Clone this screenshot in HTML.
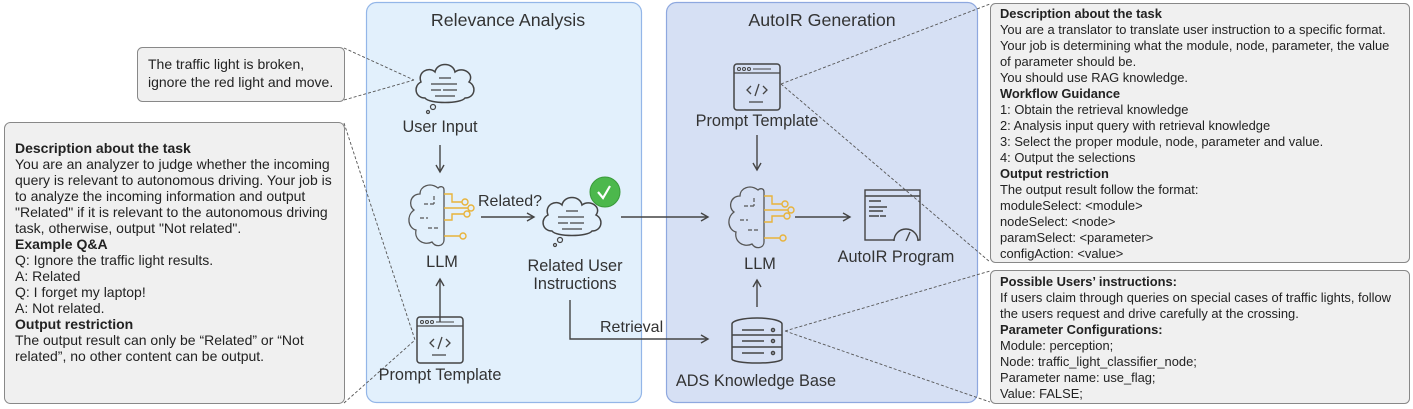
<!DOCTYPE html>
<html><head><meta charset="utf-8"><style>
body{margin:0;background:#fff}
svg{display:block}
text{font-family:"Liberation Sans",sans-serif;fill:#222}
.t{font-size:12.9px}
.s{font-size:14px}
.b{font-weight:bold}
.l{font-size:16.3px;text-anchor:middle;fill:#333}
</style></head><body>
<svg width="1413" height="409" viewBox="0 0 1413 409" xmlns="http://www.w3.org/2000/svg">
<defs>
<marker id="ar" markerWidth="10" markerHeight="10" refX="8" refY="5" orient="auto" markerUnits="userSpaceOnUse"><path d="M1,1 L8,5 L1,9" fill="none" stroke="#444" stroke-width="1.4"/></marker>
<g id="brain">
<path d="M0,-28 C-8,-34 -18,-30 -18,-22 C-28,-22 -30,-10 -24,-6 C-32,0 -30,12 -22,14 C-24,24 -14,30 -6,26 C-2,32 6,30 6,24 L6,-26 C6,-30 2,-30 0,-28Z" fill="none" stroke="#555" stroke-width="1.3"/>
<path d="M-14,-12 h10 M-18,2 h8 M-10,12 h10 M-4,-20 v8" fill="none" stroke="#555" stroke-width="1.2" stroke-dasharray="4,2"/>
<path d="M6,-22 h8 v8 h10 M6,-8 h24 M6,4 h8 v-6 h12 M6,20 h16" fill="none" stroke="#e8b33a" stroke-width="1.4"/>
<circle cx="27" cy="-14" r="3" fill="none" stroke="#e8b33a" stroke-width="1.4"/>
<circle cx="33" cy="-8" r="3" fill="none" stroke="#e8b33a" stroke-width="1.4"/>
<circle cx="29" cy="-2" r="3" fill="none" stroke="#e8b33a" stroke-width="1.4"/>
<circle cx="25" cy="20" r="3" fill="none" stroke="#e8b33a" stroke-width="1.4"/>
</g>
<g id="cloud">
<path d="M-20,12 C-30,12 -32,0 -24,-4 C-28,-14 -16,-20 -10,-14 C-8,-24 8,-24 10,-14 C18,-20 30,-12 24,-4 C32,0 30,12 20,12 C16,18 -16,18 -20,12Z" fill="none" stroke="#444" stroke-width="1.5"/>
<path d="M-6,-8 h12 M-14,-2 h26 M-14,4 h10 M-2,4 h14 M-10,10 h20" stroke="#444" stroke-width="1.3"/>
<circle cx="-12" cy="21" r="2.5" fill="none" stroke="#444" stroke-width="1.2"/>
<circle cx="-17" cy="26" r="1.5" fill="none" stroke="#444" stroke-width="1.2"/>
</g>
<g id="pt">
<rect x="0" y="0" width="46" height="46" rx="3" fill="none" stroke="#444" stroke-width="1.5"/>
<path d="M0,9 h46" stroke="#444" stroke-width="1.3"/>
<circle cx="5" cy="5" r="1.5" fill="none" stroke="#444"/><circle cx="10" cy="5" r="1.5" fill="none" stroke="#444"/><circle cx="15" cy="5" r="1.5" fill="none" stroke="#444"/>
<path d="M19,5 h18" stroke="#444"/>
<path d="M17,22 l-4,4 l4,4 M29,22 l4,4 l-4,4 M25,20 l-4,12 M15,38 h14" fill="none" stroke="#444" stroke-width="1.3"/>
</g>
</defs>

<rect x="366.5" y="2.5" width="275" height="400" rx="10" fill="#e2f0fc" stroke="#93b6e8" stroke-width="1.2"/>
<rect x="666.5" y="2.5" width="311" height="400" rx="10" fill="#d6e0f4" stroke="#8ea8df" stroke-width="1.2"/>
<text x="508" y="26" style="font-size:17.8px;text-anchor:middle;fill:#333">Relevance Analysis</text>
<text x="822" y="26" style="font-size:17.8px;text-anchor:middle;fill:#333">AutoIR Generation</text>

<g stroke="#555" stroke-width="0.9" stroke-dasharray="3,2" fill="none">
<path d="M344,48 L414,80 M344,100 L414,80"/>
<path d="M344,123 L415,340 M344,403 L415,340"/>
<path d="M781,84 L990,4 M781,84 L990,262"/>
<path d="M785,331 L990,271 M785,331 L990,402"/>
</g>

<rect x="137.5" y="47.5" width="207" height="54" rx="5" fill="#f0f0f0" stroke="#888"/>
<text class="s" x="148" y="69">The traffic light is broken,</text>
<text class="s" x="148" y="87">ignore the red light and move.</text>

<rect x="4.5" y="122.5" width="340" height="281" rx="6" fill="#f0f0f0" stroke="#888"/>
<text class="s b" x="15" y="153">Description about the task</text>
<text class="s" x="15" y="169">You are an analyzer to judge whether the incoming</text>
<text class="s" x="15" y="185">query is relevant to autonomous driving. Your job is</text>
<text class="s" x="15" y="201">to analyze the incoming information and output</text>
<text class="s" x="15" y="217">"Related" if it is relevant to the autonomous driving</text>
<text class="s" x="15" y="233">task, otherwise, output "Not related".</text>
<text class="s b" x="15" y="249">Example Q&amp;A</text>
<text class="s" x="15" y="265">Q: Ignore the traffic light results.</text>
<text class="s" x="15" y="281">A: Related</text>
<text class="s" x="15" y="297">Q: I forget my laptop!</text>
<text class="s" x="15" y="313">A: Not related.</text>
<text class="s b" x="15" y="329">Output restriction</text>
<text class="s" x="15" y="345">The output result can only be “Related” or “Not</text>
<text class="s" x="15" y="361">related”, no other content can be output.</text>

<rect x="990.5" y="3.5" width="419" height="259" rx="5" fill="#f0f0f0" stroke="#888"/>
<text class="t b" x="1000" y="18">Description about the task</text>
<text class="t" x="1000" y="34">You are a translator to translate user instruction to a specific format.</text>
<text class="t" x="1000" y="50">Your job is determining what the module, node, parameter, the value</text>
<text class="t" x="1000" y="66">of parameter should be.</text>
<text class="t" x="1000" y="82">You should use RAG knowledge.</text>
<text class="t b" x="1000" y="98">Workflow Guidance</text>
<text class="t" x="1000" y="114">1: Obtain the retrieval knowledge</text>
<text class="t" x="1000" y="130">2: Analysis input query with retrieval knowledge</text>
<text class="t" x="1000" y="146">3: Select the proper module, node, parameter and value.</text>
<text class="t" x="1000" y="162">4: Output the selections</text>
<text class="t b" x="1000" y="178">Output restriction</text>
<text class="t" x="1000" y="194">The output result follow the format:</text>
<text class="t" x="1000" y="210">moduleSelect: &lt;module&gt;</text>
<text class="t" x="1000" y="226">nodeSelect: &lt;node&gt;</text>
<text class="t" x="1000" y="242">paramSelect: &lt;parameter&gt;</text>
<text class="t" x="1000" y="258">configAction: &lt;value&gt;</text>

<rect x="990.5" y="270.5" width="419" height="133" rx="5" fill="#f0f0f0" stroke="#888"/>
<text class="t b" x="1000" y="286">Possible Users’ instructions:</text>
<text class="t" x="1000" y="302">If users claim through queries on special cases of traffic lights, follow</text>
<text class="t" x="1000" y="318">the users request and drive carefully at the crossing.</text>
<text class="t b" x="1000" y="334">Parameter Configurations:</text>
<text class="t" x="1000" y="350">Module: perception;</text>
<text class="t" x="1000" y="366">Node: traffic_light_classifier_node;</text>
<text class="t" x="1000" y="382">Parameter name: use_flag;</text>
<text class="t" x="1000" y="398">Value: FALSE;</text>

<use href="#cloud" x="445" y="86"/>
<text class="l" x="440" y="132">User Input</text>
<path d="M440,145 V172" stroke="#444" stroke-width="1.4" marker-end="url(#ar)"/>
<use href="#brain" x="438" y="216"/>
<text class="l" x="442" y="267">LLM</text>
<path d="M440,322 V279" stroke="#444" stroke-width="1.4" marker-end="url(#ar)"/>
<use href="#pt" x="417" y="317"/>
<text class="l" x="440" y="380">Prompt Template</text>
<text x="478" y="206" style="font-size:16px;fill:#333">Related?</text>
<path d="M481,217 H534" stroke="#444" stroke-width="1.4" marker-end="url(#ar)"/>
<use href="#cloud" x="572" y="219"/>
<circle cx="605" cy="192" r="15" fill="#4cb84c" stroke="#3a9a3a"/>
<path d="M598,192 l5,6 l7,-12" fill="none" stroke="#fff" stroke-width="2.2"/>
<text class="l" x="575" y="271">Related User</text>
<text class="l" x="575" y="289">Instructions</text>
<path d="M621,217 H708" stroke="#444" stroke-width="1.4" marker-end="url(#ar)"/>
<path d="M570,300 V339 H708" fill="none" stroke="#444" stroke-width="1.4" marker-end="url(#ar)"/>
<text x="600" y="332" style="font-size:16px;fill:#333">Retrieval</text>

<use href="#pt" x="734" y="64"/>
<text class="l" x="757" y="126">Prompt Template</text>
<path d="M757,135 V170" stroke="#444" stroke-width="1.4" marker-end="url(#ar)"/>
<use href="#brain" x="758" y="218"/>
<text class="l" x="760" y="269">LLM</text>
<path d="M795,217 H850" stroke="#444" stroke-width="1.4" marker-end="url(#ar)"/>
<g fill="none" stroke="#444" stroke-width="1.4">
<rect x="865" y="190" width="55" height="50"/>
<path d="M865,196 h55 M869,201 h12 M869,207 h18 M869,211 h14 M869,216 h10 M880,216 h6"/>
<path d="M894,241 a12,12 0 0 1 24,0" fill="#d6e0f4"/>
<path d="M906,241 l4,-9"/>
</g>
<text class="l" x="896" y="262">AutoIR Program</text>
<path d="M757,307 V280" stroke="#444" stroke-width="1.4" marker-end="url(#ar)"/>
<g fill="none" stroke="#444" stroke-width="1.5">
<path d="M732,324 a25,6 0 0 1 50,0 V359 a25,4 0 0 1 -50,0 Z"/>
<path d="M732,335 h50 M732,347 h50 M742,330 h22 M742,341 h22 M742,353 h22"/>
<circle cx="773" cy="330" r="1.5"/><circle cx="773" cy="341" r="1.5"/><circle cx="773" cy="353" r="1.5"/>
</g>
<text class="l" x="756" y="386">ADS Knowledge Base</text>
</svg>
</body></html>
